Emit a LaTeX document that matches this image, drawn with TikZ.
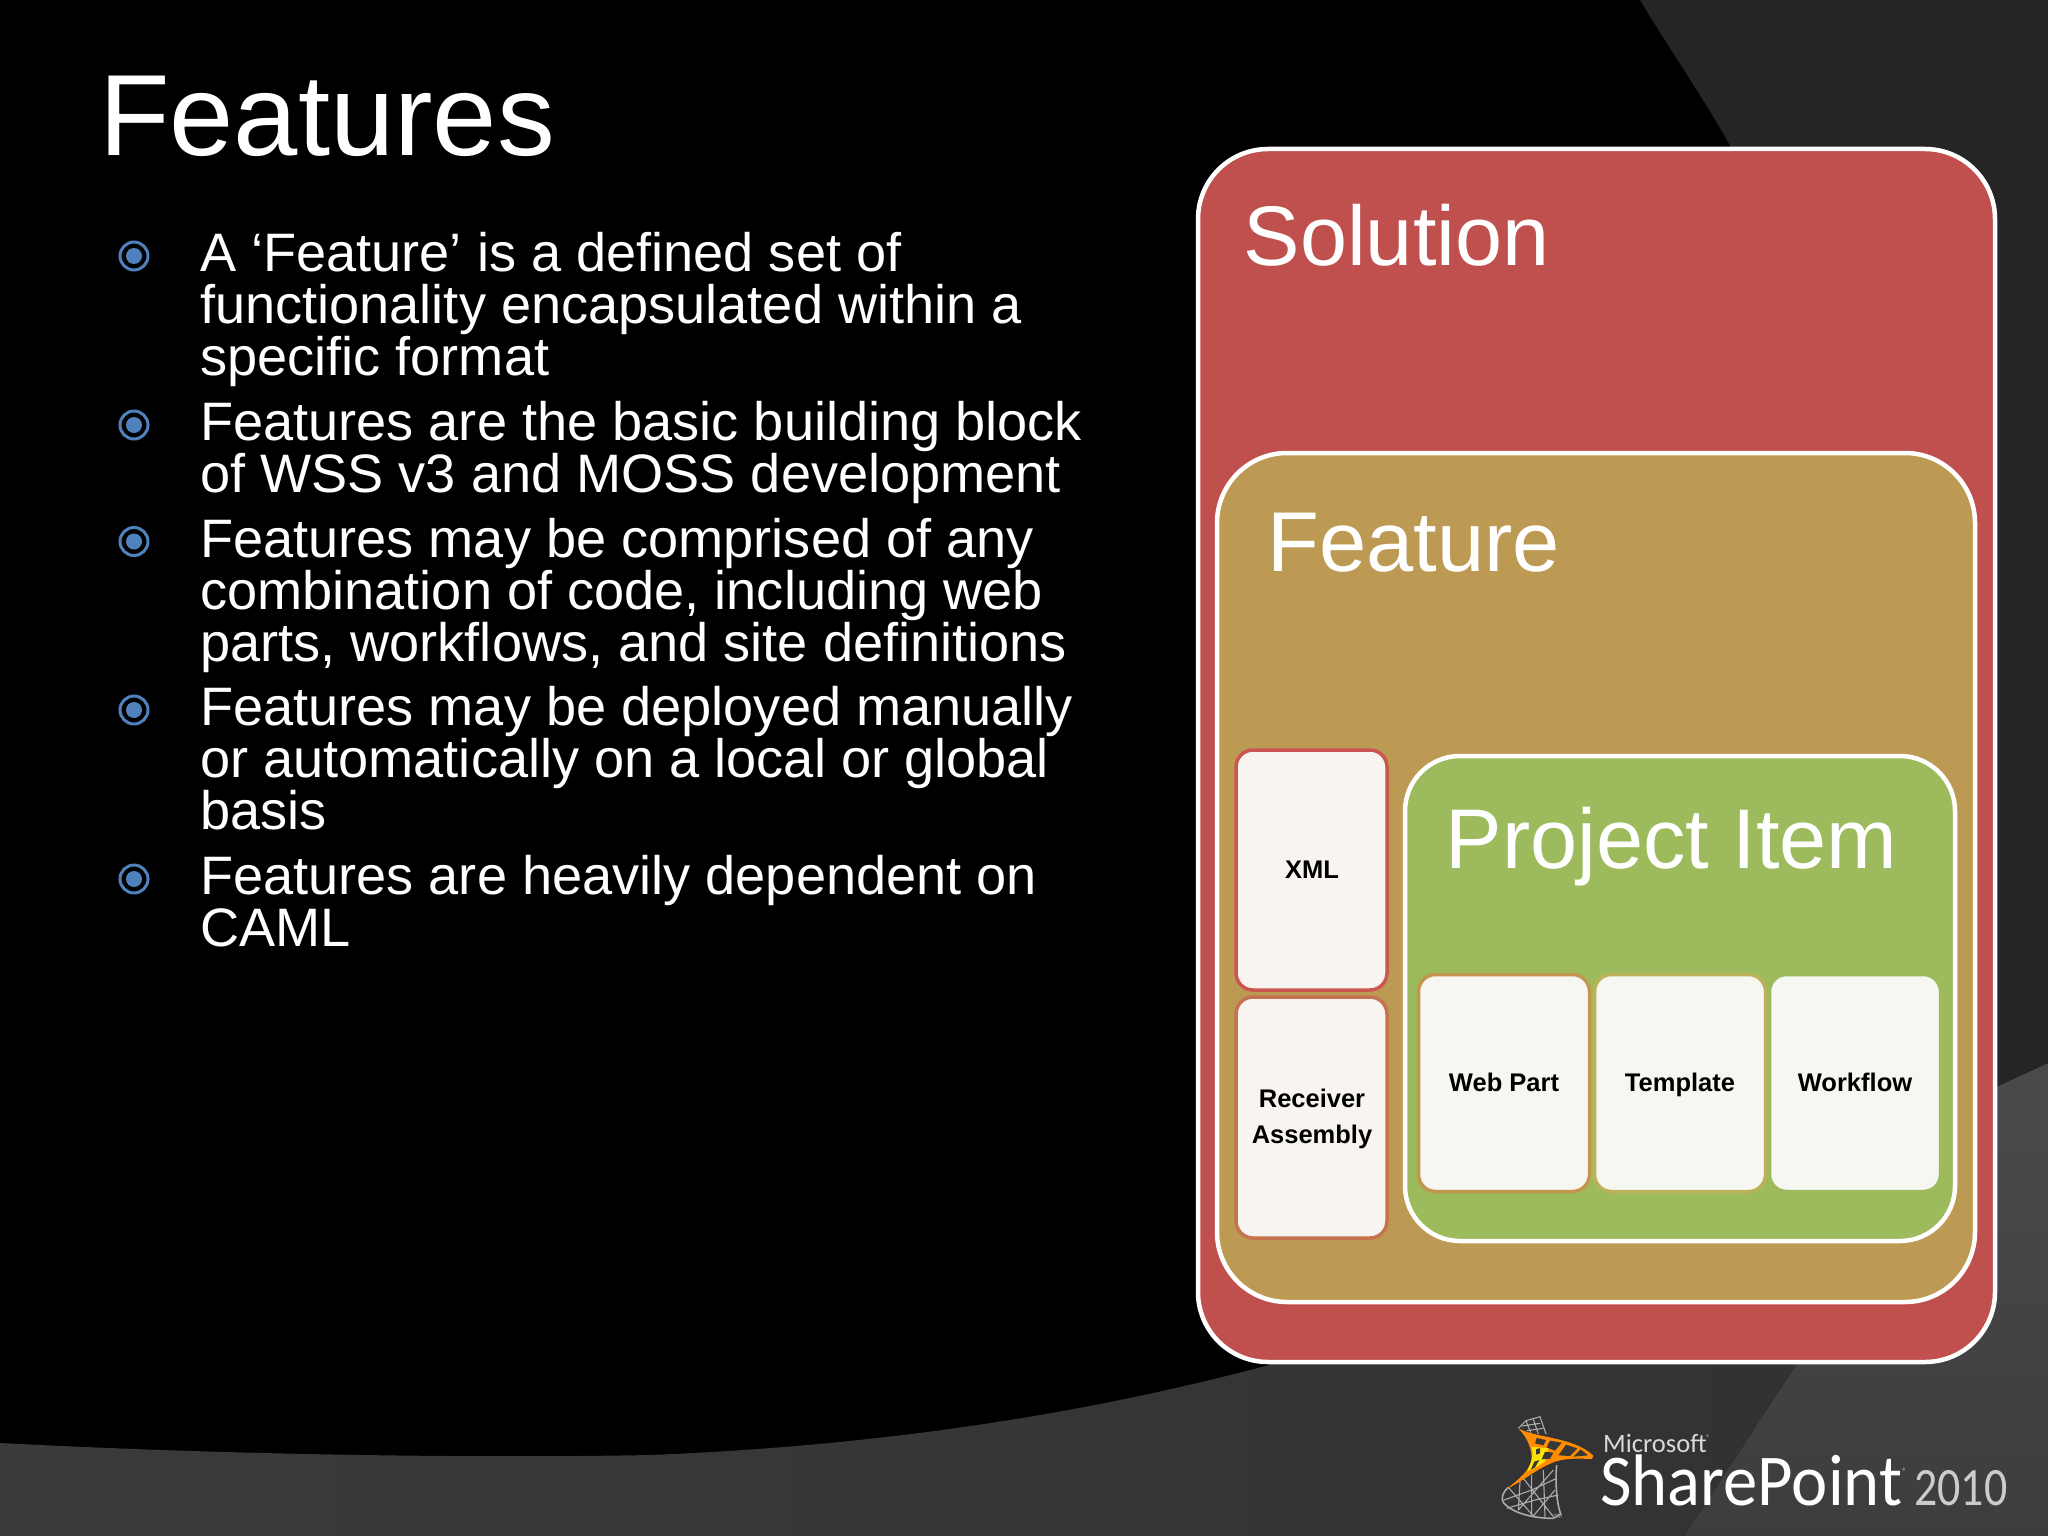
\documentclass[tikz,border=0pt]{standalone}
\usepackage{fontspec}
\setmainfont{Liberation Sans}
\newfontfamily\logofont{Carlito}
\definecolor{solred}{HTML}{C0504D}
\definecolor{feattan}{HTML}{BD9A53}
\definecolor{projgreen}{HTML}{9DBB5C}
\definecolor{bulblue}{HTML}{4F81BD}
\definecolor{darkback}{HTML}{252525}
\definecolor{bandgrey}{HTML}{3A393B}
\definecolor{bandshade}{HTML}{313133}
\definecolor{paperwarm}{HTML}{F8F4EF}
\definecolor{papercool}{HTML}{F5F7F0}
\definecolor{webedge}{HTML}{C39650}
\definecolor{tmpledge}{HTML}{BCB25A}
\definecolor{recvedge}{HTML}{C5724F}
\definecolor{xmledge}{HTML}{CB5551}
\tikzset{
  x=1pt,y=-1pt,
  bigbox/.style={draw=white,line width=4.5pt,inner sep=0pt,outer sep=0pt},
  tile/.style={line width=3.5pt,rounded corners=17pt,inner sep=0pt,outer sep=0pt},
  bigword/.style={text=white,anchor=base west,inner sep=0pt},
  tileword/.style={text=black,anchor=base,inner sep=0pt,align=center,font=\fontsize{25.5}{36.5}\selectfont\bfseries},
  bodytext/.style={text=white,anchor=north west,inner sep=0pt,align=left,font=\fontsize{54.15}{51.8}\selectfont},
  bulring/.style={circle,draw=bulblue,line width=3pt,minimum size=28pt,inner sep=0pt},
  buldot/.style={circle,fill=bulblue,minimum size=16pt,inner sep=0pt},
  greylat/.style={draw=gray!65!white,line width=1.1pt},
  orlat/.style={draw=orange!85!yellow,line width=1.2pt},
}
\begin{document}
\begin{tikzpicture}
\useasboundingbox (0,0) rectangle (2048,1536);
% background
\fill[black] (0,0) rectangle (2048,1536);
\fill[darkback] (1640,0) .. controls (1670,50) and (1705,100) .. (1732,149) -- (1996,1087) -- (2048,1063) -- (2048,0) -- cycle;
\fill[left color=bandgrey,middle color=bandgrey,right color=bandshade]
  (0,1443) .. controls (250,1456) and (500,1458) .. (650,1455)
  .. controls (900,1445) and (1100,1410) .. (1269,1365)
  -- (1996,1087) -- (2048,1063) -- (2048,1536) -- (0,1536) -- cycle;
\fill[top color=black!71!white,bottom color=black!76!white]
  (1684,1536) -- (1815,1336) -- (1996,1087) -- (2048,1063) -- (2048,1536) -- cycle;
% title and bullets
\node[text=white,anchor=base west,inner sep=0pt,font=\fontsize{115.5}{120}\selectfont] (title) at (99,156) {Features};
\foreach \nm/\yy in {a/256,b/425,c/541.5,d/710,e/879}{
  \node[bulring] (ring\nm) at (134,\yy) {};
  \node[buldot] (dot\nm) at (134,\yy) {};
}
\node[bodytext] (ta) at (200,232.5) {A ‘Feature’ is a defined set of\\functionality encapsulated within a\\specific format};
\node[bodytext] (tb) at (200,401.5) {Features are the basic building block\\of WSS v3 and MOSS development};
\node[bodytext] (tc) at (200,518.5) {Features may be comprised of any\\combination of code, including web\\parts, workflows, and site definitions};
\node[bodytext] (td) at (200,686.5) {Features may be deployed manually\\or automatically on a local or global\\basis};
\node[bodytext] (te) at (200,855.5) {Features are heavily dependent on\\CAML};
% nested boxes
\node[bigbox,fill=solred,rounded corners=70pt,minimum width=797pt,minimum height=1213pt] (solution) at (1596.5,755.5) {};
\node[bigbox,fill=feattan,rounded corners=70pt,minimum width=758pt,minimum height=849pt] (feature) at (1596,877.5) {};
\node[bigbox,fill=projgreen,rounded corners=55pt,minimum width=550pt,minimum height=485pt] (project) at (1680,998.5) {};
\node[bigword,font=\fontsize{84.6}{90}\selectfont] (lsol) at (1243.5,265) {Solution};
\node[bigword,font=\fontsize{84.9}{90}\selectfont] (lfea) at (1267,571) {Feature};
\node[bigword,font=\fontsize{84.7}{90}\selectfont] (lpro) at (1445.5,868) {Project Item};
% tiles
\node[tile,draw=xmledge,fill=paperwarm,minimum width=151pt,minimum height=240pt] (xml) at (1311.5,870) {};
\node[tile,draw=recvedge,fill=paperwarm,minimum width=151pt,minimum height=241pt] (recv) at (1311.5,1117.5) {};
\node[tile,draw=webedge,fill=papercool,minimum width=171pt,minimum height=217pt] (web) at (1504,1083) {};
\node[tile,draw=tmpledge,fill=papercool,minimum width=171pt,minimum height=217pt] (tmpl) at (1680,1083) {};
\node[tile,draw=projgreen,fill=papercool,minimum width=171pt,minimum height=217pt] (wflow) at (1855,1083) {};
\node[tileword] (txml) at (1312,878) {XML};
\node[tileword,anchor=north] (trecv) at (1312,1088.5) {Receiver\\Assembly};
\node[tileword] (tweb) at (1504,1091) {Web Part};
\node[tileword] (ttmpl) at (1680,1091) {Template};
\node[tileword] (twfl) at (1855,1091) {Workflow};
% logo: tower
\begin{scope}[shift={(1490,1410)},scale=1/3]
  \draw[greylat] (85,55) -- (108,32) -- (150,20) -- (168,72);
  \draw[greylat] (108,32) -- (122,68) (130,28) -- (145,72) (95,48) -- (150,40) (110,62) -- (160,55);
  \draw[greylat,line width=1.6pt] (200,165) .. controls (195,215) and (200,280) .. (212,312) -- (190,325) .. controls (130,325) and (70,310) .. (42,280) .. controls (30,262) and (40,245) .. (55,232);
  \draw[greylat] (160,180) -- (165,320) (125,195) -- (125,315) (90,215) -- (85,300) (55,232) -- (130,318)
    (100,205) -- (190,320) (42,270) -- (125,240) -- (200,205) (50,295) -- (135,270) -- (205,255) (190,180) -- (85,300) (195,240) -- (130,318);
  \fill[orange!90!yellow] (85,55) .. controls (140,85) and (250,80) .. (310,137) -- (306,147) .. controls (260,145) and (225,145) .. (195,155) .. controls (140,175) and (90,220) .. (50,236) .. controls (85,210) and (120,180) .. (124,150) .. controls (128,125) and (115,85) .. (85,55) -- cycle;
  \fill[yellow!85!orange] (125,110) -- (175,115) -- (165,155) -- (125,180) -- (112,182) .. controls (128,150) and (130,130) .. (125,110) -- cycle;
  \fill[black!78!white] (140,84) -- (168,90) -- (160,106) -- (135,100) -- cycle
    (180,92) -- (215,98) -- (195,122) -- (170,112) -- cycle
    (228,104) -- (262,115) -- (240,138) -- (205,136) -- cycle
    (272,118) -- (294,136) -- (250,140) -- cycle
    (138,118) -- (150,114) -- (150,130) -- (138,134) -- cycle
    (165,125) -- (190,128) -- (180,146) -- (155,148) -- cycle
    (133,155) -- (148,150) -- (135,172) -- (122,180) -- cycle;
  \node[inner sep=0pt,text=gray!70!white,font=\fontsize{6}{6}\selectfont] (tm) at (203,318) {TM};
\end{scope}
% logo: wordmark
\node[anchor=base west,inner sep=0pt,text=white!85!black,font=\logofont\fontsize{26.5}{30}\selectfont] (msft) at (1603,1452) {Microsoft};
\node[anchor=base west,inner sep=0pt,text=white!75!black,font=\logofont\fontsize{8}{8}\selectfont] (rega) at (1706,1440) {®};
\node[anchor=base west,inner sep=0pt,text=white,xscale=0.94,font=\logofont\fontsize{73}{80}\selectfont] (sp) at (1600,1505) {SharePoint};
\node[anchor=base west,inner sep=0pt,text=white!75!black,font=\logofont\fontsize{9}{9}\selectfont] (regb) at (1902,1474) {®};
\node[anchor=base west,inner sep=0pt,text=white!80!black,xscale=0.85,font=\logofont\fontsize{54}{58}\selectfont] (yr) at (1914,1505) {2010};
\end{tikzpicture}
\end{document}
